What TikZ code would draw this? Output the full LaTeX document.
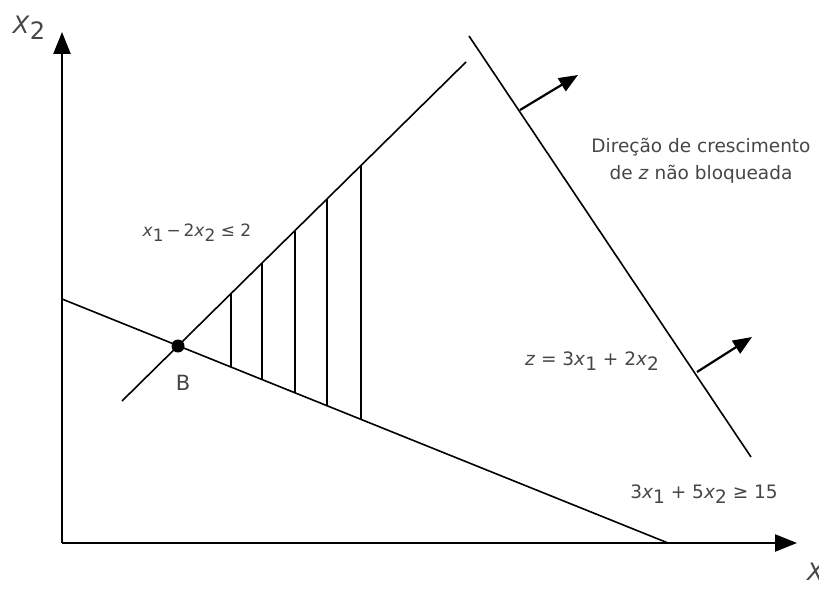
\documentclass[tikz,border=0pt]{standalone}
\usepackage{fontspec}
\setmainfont{DejaVu Sans}
\usetikzlibrary{arrows.meta}
\definecolor{labelgray}{RGB}{70,70,70}
\newcommand{\xv}[1]{\textit{x}\raisebox{-0.5ex}{#1}}

\begin{document}
\begin{tikzpicture}[x=1pt,y=1pt,
  axis/.style={line width=2.4pt,-{Triangle[length=22pt,width=17pt]}},
  bound/.style={line width=1.6pt},
  hatch/.style={line width=1.5pt},
  growarrow/.style={line width=2.2pt,-{Triangle[length=19pt,width=15pt]}},
  lbl/.style={text=labelgray,font=\fontsize{18.5}{22}\selectfont,inner sep=0pt}]
\useasboundingbox (0,0) rectangle (819,590);
% axes:
\coordinate (O) at (62,47);
\coordinate (xend) at (797,47);
\coordinate (yend) at (62,558);
\draw[axis] (O) -- (xend);
\draw[axis] (O) -- (yend);
\node[lbl,font=\fontsize{24}{26}\selectfont,anchor=west] (xlab) at (807,15) {\textit{X}\raisebox{-0.45ex}{1}};
\node[lbl,font=\fontsize{24}{26}\selectfont] (ylab) at (29,562) {\textit{X}\raisebox{-0.45ex}{2}};
% constraint lines:
\coordinate (low1) at (62,291);
\coordinate (low2) at (668,47);
\coordinate (up1) at (122,189);
\coordinate (up2) at (466,528);
\draw[bound] (low1) -- (low2);
\draw[bound] (up1) -- (up2);
% hatching:
\foreach \hx/\hy/\ly in {231/296.4/222.9,262/327.0/210.5,295/359.5/197.2,327/391.0/184.3,361/424.5/170.6}
  \draw[hatch] (\hx,\ly) -- (\hx,\hy);
% point B:
\fill (178,244) circle (6.5pt) coordinate (B);
\node[lbl,font=\fontsize{21}{24}\selectfont] (Blab) at (183,207) {B};
% objective line and growth arrows:
\coordinate (obj1) at (469,554);
\coordinate (obj2) at (751,133);
\draw[bound] (obj1) -- (obj2);
\coordinate (g1) at (520,480);
\coordinate (g1tip) at (578,515);
\coordinate (g2) at (697,218);
\coordinate (g2tip) at (752,253);
\draw[growarrow] (g1) -- (g1tip);
\draw[growarrow] (g2) -- (g2tip);
% labels:
\node[lbl,align=center] (dir) at (701,429) {Direção de crescimento\\[5pt]de \textit{z} não bloqueada};
\node[lbl,font=\fontsize{17}{20}\selectfont] (c1) at (197,357) {\xv{1}\,−\,2\xv{2} ≤ 2};
\node[lbl] (zlab) at (592,229) {\textit{z} = 3\xv{1} + 2\xv{2}};
\node[lbl] (c2) at (704,96) {3\xv{1} + 5\xv{2} ≥ 15};
\end{tikzpicture}
\end{document}
